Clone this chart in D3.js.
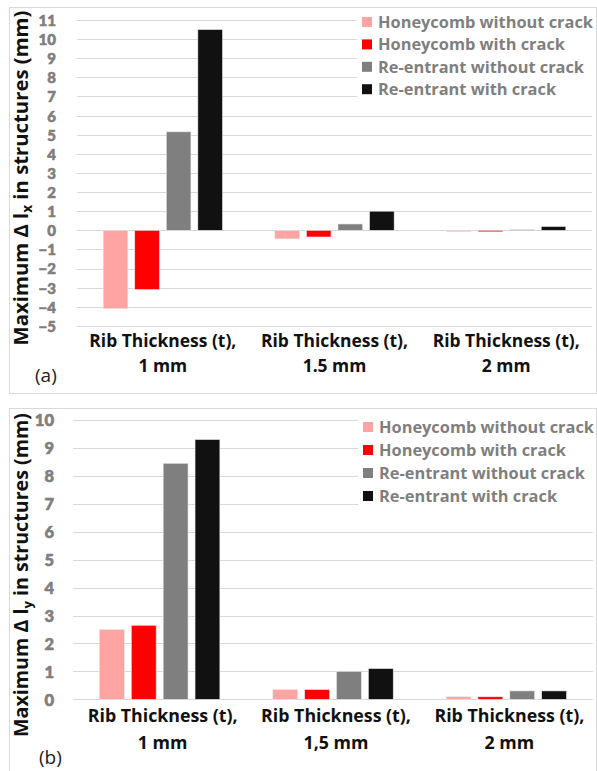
<!DOCTYPE html>
<html><head><meta charset="utf-8">
<script src="https://cdn.jsdelivr.net/npm/d3@7"></script>
<style>
body{margin:0;background:#fff;}
svg{display:block;}
text{font-family:"Open Sans",Lato,sans-serif;}
</style></head>
<body>
<svg id="c" width="597" height="771"></svg>
<script>
const categoriesA = ["Rib Thickness (t),|1 mm", "Rib Thickness (t),|1.5 mm", "Rib Thickness (t),|2 mm"];
const categoriesB = ["Rib Thickness (t),|1 mm", "Rib Thickness (t),|1,5 mm", "Rib Thickness (t),|2 mm"];
const series = ["Honeycomb without crack", "Honeycomb with crack", "Re-entrant without crack", "Re-entrant with crack"];
const colors = ["#ffa3a3", "#ff0000", "#7f7f7f", "#111111"];
// panel (a): Maximum Δ lx
const honeyNoCrackA = [-4.1, -0.45, -0.07];
const honeyCrackA   = [-3.1, -0.35, -0.08];
const reNoCrackA    = [5.15, 0.33, 0.03];
const reCrackA      = [10.5, 1.0, 0.2];
const ticksA = [11,10,9,8,7,6,5,4,3,2,1,0,-1,-2,-3,-4,-5];
// panel (b): Maximum Δ ly
const honeyNoCrackB = [2.5, 0.35, 0.09];
const honeyCrackB   = [2.65, 0.35, 0.09];
const reNoCrackB    = [8.45, 1.0, 0.3];
const reCrackB      = [9.3, 1.1, 0.3];
const ticksB = [10,9,8,7,6,5,4,3,2,1,0];

const svg = d3.select("#c");

// choose a font size so that a sample string reaches a target width
function fitSize(str, target, weight, base){
  const t = svg.append("text").attr("font-size", base).attr("font-weight", weight).text(str);
  const w = t.node().getComputedTextLength();
  t.remove();
  return base * target / w;
}

function panel(o){
  const g = svg.append("g");
  g.append("rect").attr("x", o.frame[0]+0.5).attr("y", o.frame[1]+0.5)
    .attr("width", o.frame[2]).attr("height", o.frame[3])
    .attr("fill", "#fff").attr("stroke", "#d9d9d9").attr("stroke-width", 1);

  const x0 = d3.scaleBand().domain(o.cats).range([o.left, o.right]).padding(0);
  const x1 = d3.scaleBand().domain(series).range([0, x0.bandwidth()])
    .paddingInner(0.22).paddingOuter(0.83);
  const y = d3.scaleLinear().domain(o.domain).range([o.bottom, o.top]);

  g.append("g").selectAll("line").data(o.ticks).join("line")
    .attr("x1", o.left).attr("x2", o.right)
    .attr("y1", d => Math.round(y(d))+0.5).attr("y2", d => Math.round(y(d))+0.5)
    .attr("stroke", "#d9d9d9").attr("stroke-width", 1);

  const ax = d3.axisLeft(y).tickValues(o.ticks).tickSize(0).tickPadding(0).tickFormat(d3.format("d"));
  const ag = g.append("g").attr("transform", `translate(${o.tickX},0)`).call(ax);
  ag.select(".domain").remove();
  ag.selectAll("text").attr("font-size", o.tickFs)
    .attr("fill", "#7f7f7f").attr("stroke", "#7f7f7f").attr("stroke-width", 0.6)
    .style("font-family", "Lato, sans-serif").style("font-weight", "900").attr("dy", "0.36em");

  const rows = o.cats.map((c, i) => ({c, vals: o.values.map(v => v[i])}));
  const grp = g.append("g").selectAll("g").data(rows).join("g")
    .attr("transform", d => `translate(${x0(d.c)},0)`);
  grp.selectAll("rect").data(d => d.vals.map((v, j) => ({s: series[j], v, j}))).join("rect")
    .attr("x", d => x1(d.s)).attr("width", x1.bandwidth())
    .attr("y", d => Math.min(y(0), y(d.v)))
    .attr("height", d => Math.max(0.8, Math.abs(y(d.v) - y(0))))
    .attr("fill", d => colors[d.j])
    .attr("stroke", "#e6e6e6").attr("stroke-width", 0.6);

  const catFs = fitSize("Rib Thickness (t),", o.catW, "bold", 15);
  const cl = g.append("g").selectAll("text").data(o.cats).join("text")
    .attr("x", d => x0(d) + x0.bandwidth()/2 + o.catDx)
    .attr("y", o.catY).attr("text-anchor", "middle")
    .attr("font-size", catFs).attr("font-weight", "bold").attr("fill", "#111");
  cl.each(function(d){
    const parts = d.split("|");
    const xx = d3.select(this).attr("x");
    d3.select(this).append("tspan").attr("x", xx).attr("dy", 0).text(parts[0]);
    d3.select(this).append("tspan").attr("x", xx).attr("dy", o.catLine).text(parts[1]);
  });

  const legFs = fitSize(series[0], 215, "bold", 15);
  const lg = g.append("g").attr("transform", `translate(${o.legX},${o.legY})`);
  lg.append("rect").attr("x", -5).attr("y", -13).attr("width", o.right - o.legX + 5).attr("height", o.legStep*4 + 6).attr("fill", "#fff");
  series.forEach((s, i) => {
    lg.append("rect").attr("x", 0).attr("y", i*o.legStep - 5).attr("width", 10).attr("height", 10).attr("fill", colors[i]);
    lg.append("text").attr("x", 16).attr("y", i*o.legStep).attr("dy", "0.36em")
      .attr("font-size", legFs).attr("font-weight", "bold").attr("fill", "#7f7f7f").text(s);
  });

  const t = g.append("text").attr("transform", `translate(${o.titleX},${o.titleY}) rotate(-90)`)
    .attr("text-anchor", "middle").attr("font-size", 18).attr("font-weight", "bold").attr("fill", "#111");
  t.append("tspan").text("Maximum Δ l");
  t.append("tspan").attr("font-size", 12).attr("dy", 4).text(o.sub);
  t.append("tspan").attr("dy", -4).text(" in structures (mm)");
  const tw = t.node().getComputedTextLength();
  const s = o.titleW / tw;
  t.attr("font-size", 18 * s);
  t.select("tspan:nth-child(2)").attr("font-size", 12 * s);

  g.append("text").attr("x", o.tagX).attr("y", o.tagY).attr("dy", "0.36em")
    .attr("font-size", 19).attr("fill", "#222").text(o.tag);
}

panel({
  frame: [9, 7, 587, 386], cats: categoriesA, left: 77, right: 592, top: 20, bottom: 325.9,
  domain: [-5, 11], ticks: ticksA, tickX: 56, tickFs: 15,
  values: [honeyNoCrackA, honeyCrackA, reNoCrackA, reCrackA],
  catY: 347, catLine: 25, catDx: 0, catW: 147,
  legX: 362, legY: 22, legStep: 22.4,
  titleX: 28, titleY: 178, titleW: 335, sub: "x", tag: "(a)", tagX: 35, tagY: 375
});
panel({
  frame: [9, 408, 587, 370], cats: categoriesB, left: 73, right: 593, top: 420, bottom: 699.3,
  domain: [0, 10], ticks: ticksB, tickX: 54, tickFs: 16.5,
  values: [honeyNoCrackB, honeyCrackB, reNoCrackB, reCrackB],
  catY: 722, catLine: 26.5, catDx: 3, catW: 150,
  legX: 363, legY: 427, legStep: 23,
  titleX: 28, titleY: 575, titleW: 324, sub: "y", tag: "(b)", tagX: 39, tagY: 757
});
</script>
</body></html>
